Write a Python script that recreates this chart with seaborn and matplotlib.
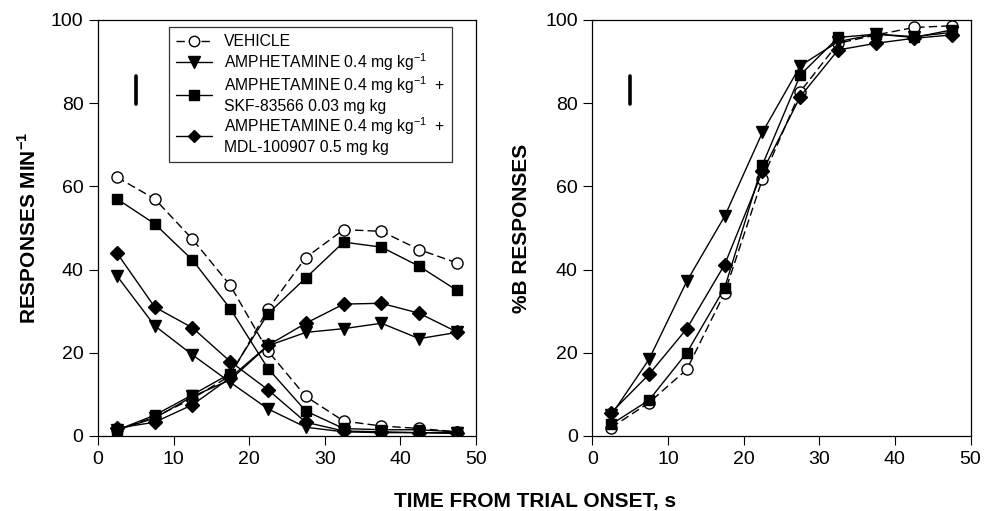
import matplotlib
matplotlib.use("Agg")
import matplotlib.pyplot as plt
import seaborn as sns
import pandas as pd
from matplotlib.lines import Line2D

sns.set_style("ticks")
plt.rcParams['font.family'] = ['Liberation Sans', 'DejaVu Sans']
plt.rcParams['mathtext.fontset'] = 'custom'
plt.rcParams['mathtext.rm'] = 'Liberation Sans'
plt.rcParams['mathtext.bf'] = 'Liberation Sans:bold'
plt.rcParams['text.color'] = 'black'
plt.rcParams['axes.labelcolor'] = 'black'
plt.rcParams['xtick.color'] = 'black'
plt.rcParams['ytick.color'] = 'black'

time_s = [2.5, 7.5, 12.5, 17.5, 22.5, 27.5, 32.5, 37.5, 42.5, 47.5]

labels = ["VEHICLE",
          "AMPHETAMINE 0.4 mg kg$^{-1}$",
          "AMPHETAMINE 0.4 mg kg$^{-1}$  +\nSKF-83566 0.03 mg kg",
          "AMPHETAMINE 0.4 mg kg$^{-1}$  +\nMDL-100907 0.5 mg kg"]

# Left panel: responses per minute on lever A (falling) and lever B (rising)
veh_a = [62.2, 57.0, 47.3, 36.2, 20.4, 9.5, 3.6, 2.4, 1.8, 1.0]
veh_b = [1.5, 4.5, 9.0, 14.5, 30.5, 42.9, 49.6, 49.2, 44.8, 41.6]
amph_a = [38.5, 26.5, 19.5, 12.9, 6.5, 2.1, 1.0, 0.8, 0.8, 0.6]
amph_b = [1.4, 4.3, 9.5, 13.5, 21.7, 24.9, 25.8, 27.1, 23.4, 24.9]
skf_a = [57.0, 51.0, 42.3, 30.6, 16.2, 6.0, 1.8, 1.5, 1.5, 1.0]
skf_b = [1.4, 5.0, 9.9, 15.0, 29.4, 38.0, 46.6, 45.4, 40.8, 35.0]
mdl_a = [44.0, 31.0, 26.0, 17.9, 11.1, 3.3, 1.2, 1.0, 0.8, 0.8]
mdl_b = [1.9, 3.3, 7.5, 14.0, 21.8, 27.1, 31.7, 31.9, 29.5, 25.0]

# Right panel: %B responses
veh_pct = [2.0, 8.0, 16.0, 34.4, 61.8, 82.8, 94.4, 96.4, 98.2, 98.6]
amph_pct = [5.0, 18.4, 37.2, 52.8, 73.0, 89.0, 94.8, 96.6, 96.0, 97.0]
skf_pct = [2.8, 8.6, 20.0, 35.6, 65.2, 86.8, 95.8, 96.6, 95.8, 97.6]
mdl_pct = [5.6, 14.8, 25.8, 41.2, 63.6, 81.6, 92.8, 94.4, 95.6, 96.4]

# representative error bar (x, low, high)
err_x = [5.0]
err_lo = [79.8]
err_hi = [86.5]

styles = [
    dict(marker='o', mfc='white', ls=(0, (6, 3)), ms=8.0),
    dict(marker='v', mfc='black', ls='-', ms=8.5),
    dict(marker='s', mfc='black', ls='-', ms=7.5),
    dict(marker='D', mfc='black', ls='-', ms=7.0),
]

fig = plt.figure(figsize=(9.97, 5.11), dpi=100)
axL = fig.add_axes([0.0983, 0.1468, 0.379, 0.8141])
axR = fig.add_axes([0.594, 0.1468, 0.3795, 0.8141])

left_series = [(veh_a, veh_b), (amph_a, amph_b), (skf_a, skf_b), (mdl_a, mdl_b)]
right_series = [veh_pct, amph_pct, skf_pct, mdl_pct]

for st, (a, b), pct in zip(styles, left_series, right_series):
    for ax, ys in [(axL, a), (axL, b), (axR, pct)]:
        df = pd.DataFrame({"t": time_s, "v": ys})
        sns.lineplot(data=df, x="t", y="v", ax=ax, color='black', lw=1.0,
                     linestyle=st['ls'], marker=st['marker'], markersize=st['ms'],
                     markerfacecolor=st['mfc'], markeredgecolor='black',
                     markeredgewidth=1.0, legend=False)

for ax in (axL, axR):
    ax.vlines(err_x, err_lo, err_hi, color='black', lw=2.6, capstyle='round')
    ax.set_xlim(0, 50)
    ax.set_ylim(0, 100)
    ax.set_xticks([0, 10, 20, 30, 40, 50])
    ax.set_yticks([0, 20, 40, 60, 80, 100])
    ax.tick_params(direction='out', length=6.5, width=0.8, labelsize=14, pad=4,
                   top=False, right=False)
    for sp in ax.spines.values():
        sp.set_visible(True)
        sp.set_linewidth(0.9)
        sp.set_color('black')
    ax.set_xlabel("")

axL.set_ylabel("RESPONSES MIN$^{\\mathbf{-1}}$", fontsize=15, fontweight='bold', labelpad=8)
axR.set_ylabel("%B RESPONSES", fontsize=15, fontweight='bold', labelpad=10)
fig.text(0.537, 0.018, "TIME FROM TRIAL ONSET, s", ha='center', va='center',
         fontsize=15, fontweight='bold')

handles = [Line2D([], [], color='black', lw=1.0, linestyle=st['ls'], marker=st['marker'],
                  markersize=st['ms'] - 0.5, markerfacecolor=st['mfc'],
                  markeredgecolor='black') for st in styles]
leg = axL.legend(handles, labels, loc='upper left', bbox_to_anchor=(0.188, 0.983),
                 fontsize=11.3, frameon=True, fancybox=False, edgecolor='black',
                 handlelength=2.3, handletextpad=0.75, borderpad=0.45, labelspacing=0.12,
                 borderaxespad=0)
leg.get_frame().set_linewidth(0.9)

fig.savefig("out.png", dpi=100)
